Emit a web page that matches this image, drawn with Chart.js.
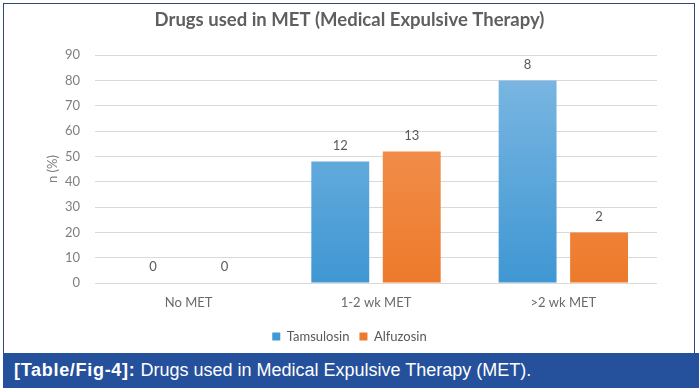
<!DOCTYPE html>
<html>
<head>
<meta charset="utf-8">
<script src="https://cdn.jsdelivr.net/npm/chart.js@4.4.1/dist/chart.umd.min.js"></script>
<style>
  html, body { margin: 0; padding: 0; background: #ffffff; }
  #page { position: relative; width: 699px; height: 391px; overflow: hidden; background: #fff; }
  #frame { position: absolute; left: 3px; top: 3px; width: 692px; height: 352px; border: 1px solid #2b4a7c; border-bottom: none; box-sizing: border-box; }
  #wrap { position: absolute; left: 0; top: 0; width: 699px; height: 353px; }
  #caption { position: absolute; left: 3px; top: 353px; width: 696px; height: 35px; background: #25509b; color: #fff;
    font-family: "Liberation Sans", Arial, sans-serif; font-size: 18px; line-height: 35px; padding-left: 11px; box-sizing: border-box; white-space: nowrap; }
  #caption b { font-weight: bold; letter-spacing: 0.7px; }
</style>
</head>
<body>
<div id="page">
  <div id="frame"></div>
  <div id="wrap"><canvas id="c" width="699" height="353"></canvas></div>
  <div id="caption"><b>[Table/Fig-4]:</b> Drugs used in Medical Expulsive Therapy (MET).</div>
</div>
<script>
const categories = ["No MET", "1-2 wk MET", ">2 wk MET"];
const seriesNames = ["Tamsulosin", "Alfuzosin"];
const tamsulosinPct = [0, 48, 80];
const alfuzosinPct = [0, 52, 20];
const tamsulosinCounts = [0, 12, 8];
const alfuzosinCounts = [0, 13, 2];
const yTicks = [0, 10, 20, 30, 40, 50, 60, 70, 80, 90];

function grad(ctx, top, bottom) {
  const chart = ctx.chart;
  const area = chart.chartArea;
  if (!area) return bottom;
  const g = chart.ctx.createLinearGradient(0, area.top, 0, area.bottom);
  g.addColorStop(0, top);
  g.addColorStop(1, bottom);
  return g;
}

const valueLabels = {
  id: 'valueLabels',
  afterDatasetsDraw(chart) {
    const ctx = chart.ctx;
    const counts = [tamsulosinCounts, alfuzosinCounts];
    ctx.save();
    ctx.font = '13px Lato, "Open Sans", sans-serif';
    ctx.fillStyle = '#595959';
    ctx.textAlign = 'center';
    ctx.textBaseline = 'middle';
    chart.data.datasets.forEach((ds, i) => {
      const meta = chart.getDatasetMeta(i);
      meta.data.forEach((el, j) => {
        ctx.fillText(String(counts[i][j]), el.x, el.y - 16);
      });
    });
    ctx.restore();
  }
};

new Chart(document.getElementById('c'), {
  type: 'bar',
  data: {
    labels: categories,
    datasets: [
      { label: seriesNames[0], data: tamsulosinPct,
        backgroundColor: (c) => grad(c, '#80b9e3', '#3f97d3'),
        categoryPercentage: 0.763, barPercentage: 0.81 },
      { label: seriesNames[1], data: alfuzosinPct,
        backgroundColor: (c) => grad(c, '#f39a5e', '#ed7a2b'),
        categoryPercentage: 0.763, barPercentage: 0.81 }
    ]
  },
  options: {
    responsive: false,
    animation: false,
    devicePixelRatio: 1,
    layout: { padding: { left: 0, right: 0, top: 0, bottom: 0 } },
    plugins: {
      title: {
        display: true,
        text: 'Drugs used in MET (Medical Expulsive Therapy)',
        color: '#5f5f5f',
        font: { family: 'Lato, "Open Sans", sans-serif', size: 18.5, weight: 'bold' },
        padding: { top: 9, bottom: 24 }
      },
      legend: {
        position: 'bottom',
        labels: {
          boxWidth: 8, boxHeight: 8, color: '#595959', padding: 10,
          font: { family: 'Lato, "Open Sans", sans-serif', size: 13 }
        }
      },
      tooltip: { enabled: false }
    },
    scales: {
      x: {
        grid: { display: false },
        border: { display: false },
        ticks: { color: '#6a6a6a', padding: 4, font: { family: 'Lato, "Open Sans", sans-serif', size: 13 } },
        afterFit: (s) => { s.height = 37; }
      },
      y: {
        min: 0, max: 90,
        afterBuildTicks: (s) => { s.ticks = yTicks.map(v => ({ value: v })); },
        grid: { color: '#d9d9d9', drawTicks: false },
        border: { display: false },
        ticks: { color: '#7f7f7f', padding: 15, font: { family: 'Lato, "Open Sans", sans-serif', size: 13 } },
        title: { display: true, text: 'n (%)', color: '#7f7f7f',
          font: { family: 'Lato, "Open Sans", sans-serif', size: 13 }, padding: { top: 45, bottom: 0 } },
        afterFit: (s) => { s.width = 95; }
      },
      yRight: {
        position: 'right',
        min: 0, max: 90,
        grid: { display: false },
        border: { display: false },
        ticks: { display: false },
        afterFit: (s) => { s.width = 42; }
      }
    }
  },
  plugins: [valueLabels]
});
</script>
</body>
</html>
